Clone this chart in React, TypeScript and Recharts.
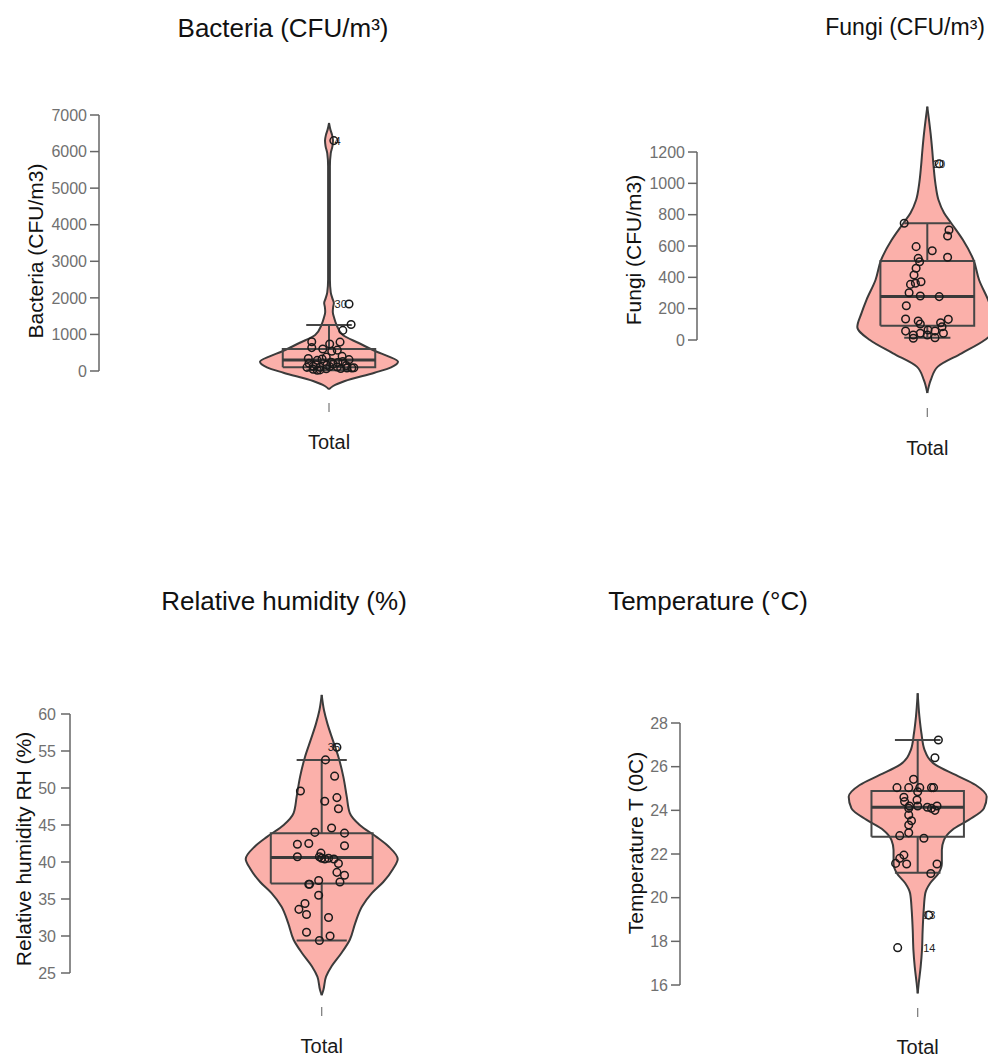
import React from 'react';
import { ComposedChart, Area, Scatter, XAxis, YAxis, ReferenceLine } from 'recharts';

const FONT = '"Liberation Sans", Arial, Helvetica, sans-serif';
const VIOLIN_FILL = '#FBB0AA';
const OUTLINE = '#3b3b3b';
const BOX_STROKE = '#464646';

// outline of each violin: [value, half width (1 = widest)]
// stats: lower whisker, Q1, median, Q3, upper whisker

// Bacteria (CFU/m3)
const bacteriaTicks = [0, 1000, 2000, 3000, 4000, 5000, 6000, 7000];
const bacteriaOutline: [number, number][] = [
  [-500, 0], [-410, 0.06], [-273, 0.23], [-46, 0.66], [100, 0.9], [254, 1.0], [400, 0.86],
  [520, 0.7], [766, 0.43], [984, 0.2], [1258, 0.11], [1450, 0.075], [1613, 0.055], [1750, 0.06],
  [1860, 0.07], [1980, 0.05], [2150, 0.025], [2500, 0.013], [3500, 0.013], [4500, 0.013],
  [5600, 0.013], [5950, 0.025], [6150, 0.05], [6300, 0.058], [6450, 0.045], [6600, 0.02], [6780, 0],
];
const bacteriaValues = [6300, 1830, 1270, 1110, 800, 640, 790, 740, 600, 540, 570, 400, 340, 290, 330, 230, 260, 310, 130, 100, 120, 110, 80, 80, 50, 30, 160, 190, 70, 210, 150, 60, 380, 170, 90, 20, 240, 100];
const bacteriaJitter = [0.07, 0.29, 0.32, 0.2, -0.25, -0.25, 0.16, 0.01, -0.09, 0.04, 0.12, 0.19, -0.3, -0.17, -0.1, 0.13, 0.2, 0.29, -0.23, -0.13, 0.01, 0.12, 0.26, 0.33, -0.23, -0.13, -0.03, 0.06, 0.17, -0.29, 0.25, -0.04, -0.04, -0.19, 0.36, -0.17, 0.03, -0.32];
const bacteriaStats = [20, 100, 300, 600, 1260];
const bacteriaLabels: [number, string][] = [[6300, '4'], [1830, '30']];

// Fungi (CFU/m3)
const fungiTicks = [0, 200, 400, 600, 800, 1000, 1200];
const fungiOutline: [number, number][] = [
  [-338, 0], [-255, 0.05], [-170, 0.15], [-85, 0.49], [0, 0.82], [83, 1.0], [172, 0.94], [255, 0.87],
  [383, 0.74], [511, 0.66], [638, 0.51], [747, 0.34], [811, 0.24], [894, 0.16], [1002, 0.115],
  [1106, 0.09], [1213, 0.07], [1319, 0.047], [1420, 0.02], [1489, 0],
];
const fungiValues = [1125, 745, 702, 664, 596, 570, 528, 521, 500, 458, 415, 372, 355, 362, 302, 281, 277, 219, 134, 121, 102, 110, 132, 85, 57, 32, 43, 64, 57, 15, 43, 11, 32];
const fungiJitter = [0.17, -0.33, 0.31, 0.29, -0.16, 0.07, 0.29, -0.13, -0.11, -0.16, -0.19, -0.09, -0.24, -0.17, -0.26, -0.1, 0.17, -0.3, -0.31, -0.13, -0.1, 0.19, 0.3, 0.21, -0.31, -0.2, -0.1, 0.01, 0.11, 0.11, 0.23, -0.2, 0];
const fungiStats = [15, 91, 277, 504, 745];
const fungiLabels: [number, string][] = [[1125, '20']];

// Relative humidity RH (%)
const humidityTicks = [25, 30, 35, 40, 45, 50, 55, 60];
const humidityOutline: [number, number][] = [
  [22.0, 0], [22.7, 0.022], [24.5, 0.057], [25.9, 0.13], [27.7, 0.26], [29.5, 0.37], [31.7, 0.44],
  [34.0, 0.53], [35.8, 0.66], [37.3, 0.81], [39.1, 0.94], [40.4, 1.0], [42.1, 0.88], [43.4, 0.72],
  [45.0, 0.5], [46.6, 0.37], [48.8, 0.33], [51.5, 0.285], [54.2, 0.22], [56.5, 0.145], [58.7, 0.075],
  [60.5, 0.03], [62.57, 0],
];
const humidityValues = [55.5, 53.8, 51.6, 49.6, 48.2, 48.7, 47.2, 44.6, 44.0, 43.9, 42.4, 42.5, 42.2, 40.7, 41.2, 40.5, 40.4, 40.7, 40.5, 40.4, 39.8, 38.6, 38.2, 37.3, 37.5, 37.0, 37.0, 35.5, 34.4, 33.6, 32.9, 32.5, 30.5, 30.0, 29.4];
const humidityJitter = [0.2, 0.05, 0.17, -0.28, 0.04, 0.2, 0.22, 0.13, -0.09, 0.3, -0.32, -0.17, 0.3, -0.32, -0.01, 0, 0.04, -0.03, 0.09, 0.16, 0.22, 0.2, 0.3, 0.24, -0.04, -0.17, -0.16, -0.04, -0.22, -0.3, -0.2, 0.09, -0.2, 0.11, -0.03];
const humidityStats = [29.4, 37.1, 40.6, 43.9, 53.8];
const humidityLabels: [number, string][] = [[55.5, '35']];

// Temperature T (0C)
const temperatureTicks = [16, 18, 20, 22, 24, 26, 28];
const temperatureOutline: [number, number][] = [
  [15.62, 0], [16.08, 0.015], [16.84, 0.043], [17.6, 0.062], [18.52, 0.072], [19.43, 0.087],
  [20.2, 0.11], [20.66, 0.18], [21.11, 0.3], [21.57, 0.35], [22.18, 0.35], [22.64, 0.38], [23.1, 0.5],
  [23.56, 0.74], [24.09, 0.96], [24.62, 1.0], [25.16, 0.84], [25.62, 0.55], [26.08, 0.26],
  [26.76, 0.1], [27.53, 0.054], [28.29, 0.025], [29.36, 0],
];
const temperatureValues = [27.22, 26.41, 25.42, 25.04, 25.04, 25.04, 25.04, 25.04, 24.85, 24.6, 24.4, 24.47, 24.09, 24.2, 24.2, 24.14, 24.09, 24.2, 24.0, 23.79, 23.52, 23.33, 22.97, 22.84, 22.72, 21.95, 21.8, 21.57, 21.54, 21.54, 21.11, 19.2, 17.71];
const temperatureJitter = [0.3, 0.25, -0.06, -0.3, -0.13, 0.03, 0.2, 0.23, 0, -0.2, -0.19, -0.01, -0.13, -0.12, 0, 0.14, 0.2, 0.28, 0.25, -0.13, -0.09, -0.13, -0.13, -0.26, 0.09, -0.2, -0.26, -0.32, -0.16, 0.28, 0.19, 0.16, -0.29];
const temperatureStats = [21.14, 22.79, 24.14, 24.88, 27.22];
const temperatureLabels: [number, string][] = [[19.2, '13'], [17.71, '14']];

const BOX_HALF = 0.67;
const CAP_HALF = 0.33;
const LABEL_DX = 0.08;

type PanelSpec = {
  left: number;
  top: number;
  width: number;
  height: number;
  margin: { top: number; right: number; bottom: number; left: number };
  xAxisHeight: number;
  xTickMargin: number;
  yTickMargin: number;
  xDomain: [number, number];
  yDomain: [number, number];
  ticks: number[];
  outline: [number, number][];
  values: number[];
  jitter: number[];
  stats: number[];
  labels: [number, string][];
};

function Dot(props: any) {
  const { cx, cy } = props;
  if (cx == null || cy == null) return <g />;
  return <circle cx={cx} cy={cy} r={3.8} fill="none" stroke="#1a1a1a" strokeWidth={1.5} />;
}

function OutlierLabel(props: any) {
  const { cx, cy, payload } = props;
  if (cx == null || cy == null) return <g />;
  return (
    <text x={cx} y={cy} dy="0.36em" fontSize={11} fill="#222">
      {payload.text}
    </text>
  );
}

const NoMark = () => <g />;

function ViolinPanel({ spec }: { spec: PanelSpec }) {
  const rows = spec.outline.map(([v, w]) => ({ v, w: [-w, w] }));
  const points = spec.values.map((v, i) => ({ v, x: spec.jitter[i] }));
  const labelPoints = spec.labels.map(([v, text]) => ({ v, x: LABEL_DX, text }));
  const [lo, q1, med, q3, hi] = spec.stats;
  const box = [
    { x: -BOX_HALF, v: q1 },
    { x: BOX_HALF, v: q1 },
    { x: BOX_HALF, v: q3 },
    { x: -BOX_HALF, v: q3 },
    { x: -BOX_HALF, v: q1 },
  ];
  const upper = [{ x: 0, v: q3 }, { x: 0, v: hi }, { x: -CAP_HALF, v: hi }, { x: CAP_HALF, v: hi }];
  const lower = [{ x: 0, v: q1 }, { x: 0, v: lo }, { x: -CAP_HALF, v: lo }, { x: CAP_HALF, v: lo }];
  const median = [{ x: -BOX_HALF, v: med }, { x: BOX_HALF, v: med }];
  const t0 = spec.ticks[0];
  const t1 = spec.ticks[spec.ticks.length - 1];

  return (
    <div style={{ position: 'absolute', left: spec.left, top: spec.top }}>
      <ComposedChart layout="vertical" width={spec.width} height={spec.height} data={rows} margin={spec.margin}>
        <XAxis
          type="number"
          domain={spec.xDomain}
          allowDataOverflow
          ticks={[0]}
          tickFormatter={() => 'Total'}
          axisLine={false}
          tickLine={{ stroke: '#777', strokeWidth: 1.2 }}
          tickSize={9}
          tickMargin={spec.xTickMargin}
          tick={{ fontSize: 20, fill: '#1a1a1a' }}
          height={spec.xAxisHeight}
        />
        <YAxis
          type="number"
          dataKey="v"
          domain={spec.yDomain}
          allowDataOverflow
          reversed
          ticks={spec.ticks}
          interval={0}
          axisLine={false}
          tickLine={{ stroke: '#666', strokeWidth: 1.5 }}
          tickSize={9}
          tickMargin={spec.yTickMargin}
          tick={{ fontSize: 16, fill: '#707070' }}
          width={60}
        />
        <ReferenceLine
          segment={[{ x: spec.xDomain[0], y: t0 }, { x: spec.xDomain[0], y: t1 }]}
          stroke="#666"
          strokeWidth={1.5}
          ifOverflow="visible"
        />
        <Area
          dataKey="w"
          type="monotone"
          fill={VIOLIN_FILL}
          fillOpacity={1}
          stroke={OUTLINE}
          strokeWidth={2}
          isAnimationActive={false}
        />
        <Scatter data={box} dataKey="x" shape={NoMark} line={{ stroke: BOX_STROKE, strokeWidth: 2 }} isAnimationActive={false} />
        <Scatter data={upper} dataKey="x" shape={NoMark} line={{ stroke: BOX_STROKE, strokeWidth: 2 }} isAnimationActive={false} />
        <Scatter data={lower} dataKey="x" shape={NoMark} line={{ stroke: BOX_STROKE, strokeWidth: 2 }} isAnimationActive={false} />
        <Scatter data={median} dataKey="x" shape={NoMark} line={{ stroke: '#3a3a3a', strokeWidth: 3 }} isAnimationActive={false} />
        <Scatter data={points} dataKey="x" shape={Dot} isAnimationActive={false} />
        <Scatter data={labelPoints} dataKey="x" shape={OutlierLabel} isAnimationActive={false} />
      </ComposedChart>
    </div>
  );
}

const panels: PanelSpec[] = [
  {
    left: 0, top: 0, width: 494, height: 480,
    margin: { top: 115, right: 0, bottom: 17, left: 39 },
    xAxisHeight: 60, xTickMargin: 23, yTickMargin: 3,
    xDomain: [-3.333, 2.391], yDomain: [-875, 7000],
    ticks: bacteriaTicks, outline: bacteriaOutline, values: bacteriaValues,
    jitter: bacteriaJitter, stats: bacteriaStats, labels: bacteriaLabels,
  },
  {
    left: 494, top: 0, width: 494, height: 480,
    margin: { top: 100, right: 0, bottom: 12, left: 143 },
    xAxisHeight: 60, xTickMargin: 24, yTickMargin: 3,
    xDomain: [-3.29, 0.867], yDomain: [-434, 1532],
    ticks: fungiTicks, outline: fungiOutline, values: fungiValues,
    jitter: fungiJitter, stats: fungiStats, labels: fungiLabels,
  },
  {
    left: 0, top: 540, width: 494, height: 519,
    margin: { top: 150, right: 0, bottom: 12, left: 10 },
    xAxisHeight: 40, xTickMargin: 23, yTickMargin: 5,
    xDomain: [-3.312, 2.267], yDomain: [20.405, 63.243],
    ticks: humidityTicks, outline: humidityOutline, values: humidityValues,
    jitter: humidityJitter, stats: humidityStats, labels: humidityLabels,
  },
  {
    left: 494, top: 540, width: 494, height: 519,
    margin: { top: 148, right: 0, bottom: 11, left: 126 },
    xAxisHeight: 40, xTickMargin: 23, yTickMargin: 3,
    xDomain: [-3.445, 1.019], yDomain: [14.947, 29.603],
    ticks: temperatureTicks, outline: temperatureOutline, values: temperatureValues,
    jitter: temperatureJitter, stats: temperatureStats, labels: temperatureLabels,
  },
];

// titles: anchor is the centre, except the Fungi one which sits against the right edge
const titles = [
  { text: 'Bacteria (CFU/m³)', x: 283, top: 15, size: 26, align: 'center' },
  { text: 'Fungi (CFU/m³)', x: 985, top: 16, size: 23, align: 'right' },
  { text: 'Relative humidity (%)', x: 284, top: 588, size: 26, align: 'center' },
  { text: 'Temperature (°C)', x: 708, top: 588, size: 26, align: 'center' },
];

const axisTitles = [
  { text: 'Bacteria (CFU/m3)', cx: 35, cy: 251 },
  { text: 'Fungi (CFU/m3)', cx: 633, cy: 250 },
  { text: 'Relative humidity RH (%)', cx: 23, cy: 849 },
  { text: 'Temperature T (0C)', cx: 635, cy: 843 },
];

export default function App() {
  return (
    <div
      style={{
        position: 'absolute',
        left: 0,
        top: 0,
        width: 988,
        height: 1059,
        overflow: 'hidden',
        background: '#fff',
        fontFamily: FONT,
      }}
    >
      {panels.map((p, i) => (
        <ViolinPanel key={i} spec={p} />
      ))}
      {titles.map((t) => (
        <div
          key={t.text}
          style={{
            position: 'absolute',
            left: t.x,
            top: t.top,
            transform: t.align === 'center' ? 'translateX(-50%)' : 'translateX(-100%)',
            fontSize: t.size,
            lineHeight: `${t.size}px`,
            whiteSpace: 'nowrap',
            color: '#111',
          }}
        >
          {t.text}
        </div>
      ))}
      {axisTitles.map((t) => (
        <div
          key={t.text}
          style={{
            position: 'absolute',
            left: t.cx,
            top: t.cy,
            transform: 'translate(-50%, -50%) rotate(-90deg)',
            fontSize: 21,
            lineHeight: '21px',
            whiteSpace: 'nowrap',
            color: '#111',
          }}
        >
          {t.text}
        </div>
      ))}
    </div>
  );
}
